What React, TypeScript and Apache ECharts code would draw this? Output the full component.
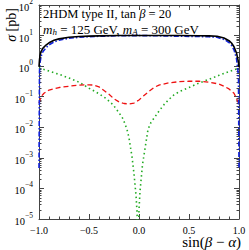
import React, { useEffect, useRef } from "react";
import * as echarts from "echarts";

const FONT = "'Liberation Serif', 'Times New Roman', serif";

// x = sin(beta - alpha)
const blackX = [-1.0, -0.995, -0.99, -0.98, -0.96, -0.93, -0.9, -0.85, -0.8, -0.7, -0.6, -0.5, -0.4, -0.2, 0.0, 0.2, 0.4, 0.6, 0.7, 0.78, 0.85, 0.9, 0.925, 0.95, 0.975, 0.99, 0.995, 1.0];
const blackY = [0.95, 1.6, 2.2, 3.0, 3.9, 4.9, 5.8, 7.0, 7.8, 8.8, 9.3, 9.6, 9.8, 10.0, 10.1, 10.1, 10.0, 9.9, 9.8, 9.5, 8.3, 6.8, 5.7, 4.3, 2.7, 1.6, 1.3, 0.92];

const blueX = [-1.0, -0.995, -0.99, -0.98, -0.96, -0.93, -0.9, -0.85, -0.8, -0.7, -0.6, -0.5, -0.4, -0.2, 0.0, 0.2, 0.4, 0.6, 0.7, 0.78, 0.85, 0.9, 0.925, 0.95, 0.975, 0.99, 0.995, 1.0];
const blueY = [0.00047, 0.66, 1.26, 2.07, 3.0, 4.0, 4.95, 6.2, 7.06, 8.17, 8.76, 9.17, 9.47, 9.9, 10.0, 9.83, 9.55, 9.3, 9.13, 8.77, 7.5, 5.96, 4.83, 3.41, 1.79, 0.68, 0.37, 0.00047];

const redX = [-1.0, -0.98, -0.95, -0.9, -0.8, -0.7, -0.6, -0.5, -0.45, -0.4, -0.35, -0.3, -0.25, -0.2, -0.15, -0.1, -0.05, 0.0, 0.05, 0.1, 0.15, 0.2, 0.3, 0.4, 0.5, 0.6, 0.7, 0.8, 0.85, 0.9, 0.95, 0.98, 1.0];
const redY = [0.062, 0.1, 0.13, 0.165, 0.2, 0.22, 0.24, 0.245, 0.24, 0.21, 0.16, 0.12, 0.085, 0.068, 0.06, 0.058, 0.062, 0.078, 0.11, 0.15, 0.2, 0.24, 0.285, 0.31, 0.32, 0.32, 0.3, 0.26, 0.22, 0.18, 0.13, 0.08, 0.058];

const greenX = [-1.0, -0.95, -0.9, -0.8, -0.7, -0.6, -0.5, -0.4, -0.33, -0.26, -0.2, -0.16, -0.12, -0.1, -0.085, -0.07, -0.05, -0.03, -0.02, -0.01, 0.0, 0.01, 0.035, 0.06, 0.09, 0.12, 0.16, 0.2, 0.25, 0.3, 0.35, 0.4, 0.5, 0.6, 0.7, 0.8, 0.9, 0.95, 1.0];
const greenY = [0.87, 0.78, 0.69, 0.54, 0.41, 0.3, 0.19, 0.125, 0.088, 0.055, 0.03, 0.019, 0.0085, 0.0045, 0.0022, 0.0011, 0.0003, 0.00006, 0.000018, 0.000001, 0.00002, 0.00008, 0.0006, 0.002, 0.0085, 0.0145, 0.022, 0.034, 0.055, 0.082, 0.115, 0.145, 0.2, 0.28, 0.37, 0.5, 0.66, 0.76, 0.87];

// log-axis minor tick positions
const decades = [-5, -4, -3, -2, -1, 0, 1];
const minorMultipliers = [2, 3, 4, 5, 6, 7, 8, 9];

const pairs = (xs: number[], ys: number[]) => xs.map((x, i) => [x, ys[i]]);

const AXIS_COLOR = "#444";

export default function App() {
  const ref = useRef<HTMLDivElement>(null);
  useEffect(() => {
    document.body.style.margin = "0";
    const chart = echarts.init(ref.current!, null, { renderer: "svg" });
    const minorTicks: number[][] = [];
    decades.forEach((d) => minorMultipliers.forEach((m) => minorTicks.push([-1, m * Math.pow(10, d)])));

    const xAxisBase = {
      type: "value",
      min: -1,
      max: 1,
      interval: 0.5,
      axisLine: { show: true, onZero: false, lineStyle: { color: AXIS_COLOR, width: 1 } },
      axisTick: { show: true, inside: true, length: 5, lineStyle: { color: AXIS_COLOR } },
      minorTick: { show: true, splitNumber: 5, length: 2.5, lineStyle: { color: AXIS_COLOR } },
      splitLine: { show: false },
      minorSplitLine: { show: false },
    };
    const yAxisBase = {
      type: "log",
      logBase: 10,
      min: 1e-5,
      max: 1e2,
      splitNumber: 7,
      axisLine: { show: true, onZero: false, lineStyle: { color: AXIS_COLOR, width: 1 } },
      axisTick: { show: true, inside: true, length: 5, lineStyle: { color: AXIS_COLOR } },
      splitLine: { show: false },
    };

    chart.setOption({
      animation: false,
      backgroundColor: "#fff",
      grid: { left: 39, right: 10, top: 5, bottom: 31, containLabel: false, outerBoundsMode: "none" },
      xAxis: [
        {
          ...xAxisBase,
          position: "bottom",
          axisLabel: {
            show: true,
            margin: 6,
            fontFamily: FONT,
            fontSize: 10,
            color: "#000",
            formatter: (v: number) => (v < 0 ? "\u2212" + Math.abs(v).toFixed(1) : v.toFixed(1)),
          },
        },
        { ...xAxisBase, position: "top", axisLabel: { show: false } },
      ],
      yAxis: [
        {
          ...yAxisBase,
          position: "left",
          axisLabel: {
            show: true,
            margin: 6,
            color: "#000",
            formatter: (v: number) => {
              const e = Math.round(Math.log10(v));
              const s = e < 0 ? "\u2212" + Math.abs(e) : String(e);
              return `{b|10}{s|${s}}`;
            },
            rich: {
              b: { fontFamily: FONT, fontSize: 10.5, color: "#000", padding: [5, 0, 0, 0] },
              s: { fontFamily: FONT, fontSize: 7.5, color: "#000", padding: [0, 0, 7, 0] },
            },
          },
        },
        { ...yAxisBase, position: "right", axisLabel: { show: false } },
      ],
      series: [
        {
          type: "custom",
          silent: true,
          xAxisIndex: 0,
          yAxisIndex: 0,
          data: minorTicks,
          renderItem: (params: any, api: any) => {
            const v = api.value(1);
            const pL = api.coord([-1, v]);
            const pR = api.coord([1, v]);
            const y = Math.round(pL[1]) + 0.5;
            return {
              type: "group",
              children: [
                { type: "line", shape: { x1: pL[0], y1: y, x2: pL[0] + 2.5, y2: y }, style: { stroke: AXIS_COLOR, lineWidth: 1 } },
                { type: "line", shape: { x1: pR[0], y1: y, x2: pR[0] - 2.5, y2: y }, style: { stroke: AXIS_COLOR, lineWidth: 1 } },
              ],
            };
          },
        },
        {
          type: "line",
          name: "green",
          data: pairs(greenX, greenY),
          showSymbol: false,
          symbol: "none",
          clip: true,
          lineStyle: { color: "#22aa22", width: 1.6, type: [1.5, 3] },
        },
        {
          type: "line",
          name: "red",
          data: pairs(redX, redY),
          symbol: "none",
          clip: true,
          lineStyle: { color: "#ee1111", width: 1.3, type: [5, 3] },
        },
        {
          type: "line",
          name: "blue",
          data: pairs(blueX, blueY),
          symbol: "none",
          clip: true,
          lineStyle: { color: "#1122dd", width: 1.6, type: [5, 2, 1.5, 2] },
        },
        {
          type: "line",
          name: "black",
          data: pairs(blackX, blackY),
          symbol: "none",
          clip: true,
          lineStyle: { color: "#000", width: 1.6, type: "solid" },
        },
      ],
      graphic: [
        {
          type: "text",
          x: 43,
          y: 13.5,
          silent: true,
          style: {
            text: "{r|2HDM type II, tan }{i|\u03b2}{r| = 20}",
            verticalAlign: "middle",
            align: "left",
            rich: {
              r: { fontFamily: FONT, fontSize: 12.5, fill: "#000" },
              i: { fontFamily: FONT, fontSize: 12.5, fontStyle: "italic", fill: "#000" },
            },
          },
        },
        {
          type: "text",
          x: 43,
          y: 29,
          silent: true,
          style: {
            text: "{i|m}{sub|h}{r| = 125 GeV, }{i|m}{sub|A}{r| = 300 GeV}",
            verticalAlign: "middle",
            align: "left",
            rich: {
              r: { fontFamily: FONT, fontSize: 13, fill: "#000" },
              i: { fontFamily: FONT, fontSize: 13, fontStyle: "italic", fill: "#000" },
              sub: { fontFamily: FONT, fontSize: 9, fontStyle: "italic", fill: "#000", padding: [6, 0, 0, 0] },
            },
          },
        },
        {
          type: "text",
          x: 11,
          y: 25,
          rotation: Math.PI / 2,
          silent: true,
          style: {
            text: "{i|\u03c3}{r| [pb]}",
            align: "center",
            verticalAlign: "middle",
            rich: {
              r: { fontFamily: FONT, fontSize: 14, fill: "#000" },
              i: { fontFamily: FONT, fontSize: 14, fontStyle: "italic", fill: "#000" },
            },
          },
        },
        {
          type: "text",
          x: 241,
          y: 242,
          silent: true,
          style: {
            text: "{r|sin(}{i|\u03b2}{r| \u2212 }{i|\u03b1}{r|)}",
            align: "right",
            verticalAlign: "middle",
            rich: {
              r: { fontFamily: FONT, fontSize: 15, fill: "#000" },
              i: { fontFamily: FONT, fontSize: 15, fontStyle: "italic", fill: "#000" },
            },
          },
        },
      ],
    });
    return () => chart.dispose();
  }, []);
  return <div ref={ref} style={{ position: "fixed", left: 0, top: 0, width: 249, height: 250 }} />;
}
